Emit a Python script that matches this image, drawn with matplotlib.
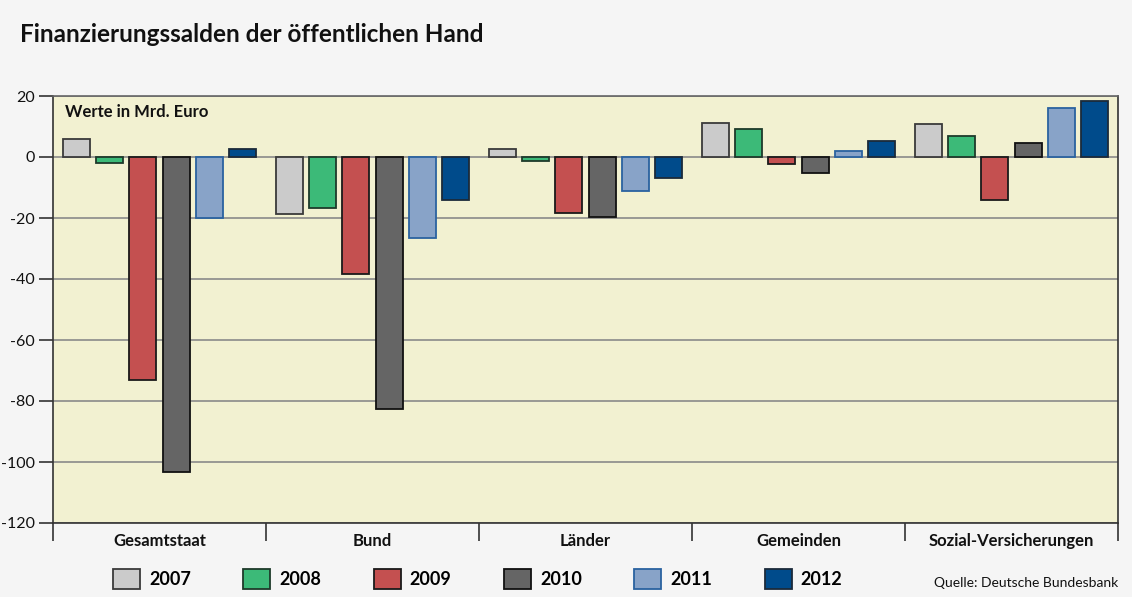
import matplotlib
matplotlib.use("Agg")
import matplotlib.pyplot as plt
import numpy as np

categories = ["Gesamtstaat", "Bund", "Länder", "Gemeinden", "Sozial-Versicherungen"]
years = ["2007", "2008", "2009", "2010", "2011", "2012"]
values = {
    "2007": [5.8, -18.7, 2.5, 11.2, 10.9],
    "2008": [-1.9, -16.7, -1.2, 9.1, 7.0],
    "2009": [-73.1, -38.4, -18.4, -2.3, -14.1],
    "2010": [-103.3, -82.6, -19.7, -5.3, 4.5],
    "2011": [-20.0, -26.6, -11.1, 2.1, 16.0],
    "2012": [2.6, -14.1, -6.9, 5.1, 18.3],
}
yticks = [20, 0, -20, -40, -60, -80, -100, -120]

face_colors = ["#cbcbcb", "#3cba78", "#c45050", "#656565", "#88a3c8", "#004b8b"]
edge_colors = ["#3a3a3a", "#1e3a2a", "#1a1a1a", "#111111", "#2a62a0", "#1b2a3a"]

plt.rcParams['font.family'] = ['Lato', 'DejaVu Sans']

W, H = 1132, 597
fig = plt.figure(figsize=(W / 100, H / 100), dpi=100, facecolor="#f5f5f5")
ax = fig.add_axes([53 / W, (H - 523) / H, 1065 / W, 427 / H])
ax.set_facecolor("#f2f1d1")

x = np.arange(len(categories)) + 0.5
step = 0.156
bw = 0.127
handles = []
for i, yr in enumerate(years):
    b = ax.bar(x + (i - 2.5) * step, values[yr], width=bw, color=face_colors[i],
               edgecolor=edge_colors[i], linewidth=1.3, label=yr, zorder=3)
    handles.append(b)

ax.set_xlim(0, 5)
ax.set_ylim(-120, 20)
ax.set_yticks(yticks)
ax.set_yticklabels([str(v) for v in yticks], fontsize=11.5, color="#111111")
ax.yaxis.grid(True, color="#8a8a8a", linewidth=1.2, zorder=1)
ax.set_axisbelow(True)
ax.tick_params(axis="y", length=10, width=1.2, color="#333333", pad=3)

ax.set_xticks(np.arange(0, 6))
ax.set_xticklabels([])
ax.tick_params(axis="x", which="major", length=13, width=1.2, color="#333333")
ax.set_xticks(x, minor=True)
ax.set_xticklabels(categories, minor=True, fontsize=12, fontweight="bold", color="#111111")
ax.tick_params(axis="x", which="minor", length=0, pad=7)

for s in ax.spines.values():
    s.set_color("#333333")
    s.set_linewidth(1.2)
ax.spines["top"].set_color("#666666")

ax.text(12 / 1065, 1 - 16 / 427, "Werte in Mrd. Euro", transform=ax.transAxes,
        fontsize=12, fontweight="bold", va="center", ha="left", color="#111111")

fig.text(20 / W, 1 - 35 / H, "Finanzierungssalden der öffentlichen Hand",
         fontsize=17.5, fontweight="bold", va="center", ha="left", color="#111111")

leg = fig.legend(handles=handles, labels=years, loc="upper left",
                 bbox_to_anchor=(113 / W, 1 - 569 / H), ncol=6, frameon=False,
                 prop={"size": 13, "weight": "bold"}, handlelength=1.5,
                 handleheight=1.3, handletextpad=0.5, columnspacing=2.9,
                 borderpad=0, borderaxespad=0)

fig.text(1118 / W, 1 - 583 / H, "Quelle: Deutsche Bundesbank", fontsize=10,
         ha="right", va="center", color="#111111")

fig.savefig("out.png", dpi=100, facecolor=fig.get_facecolor())
